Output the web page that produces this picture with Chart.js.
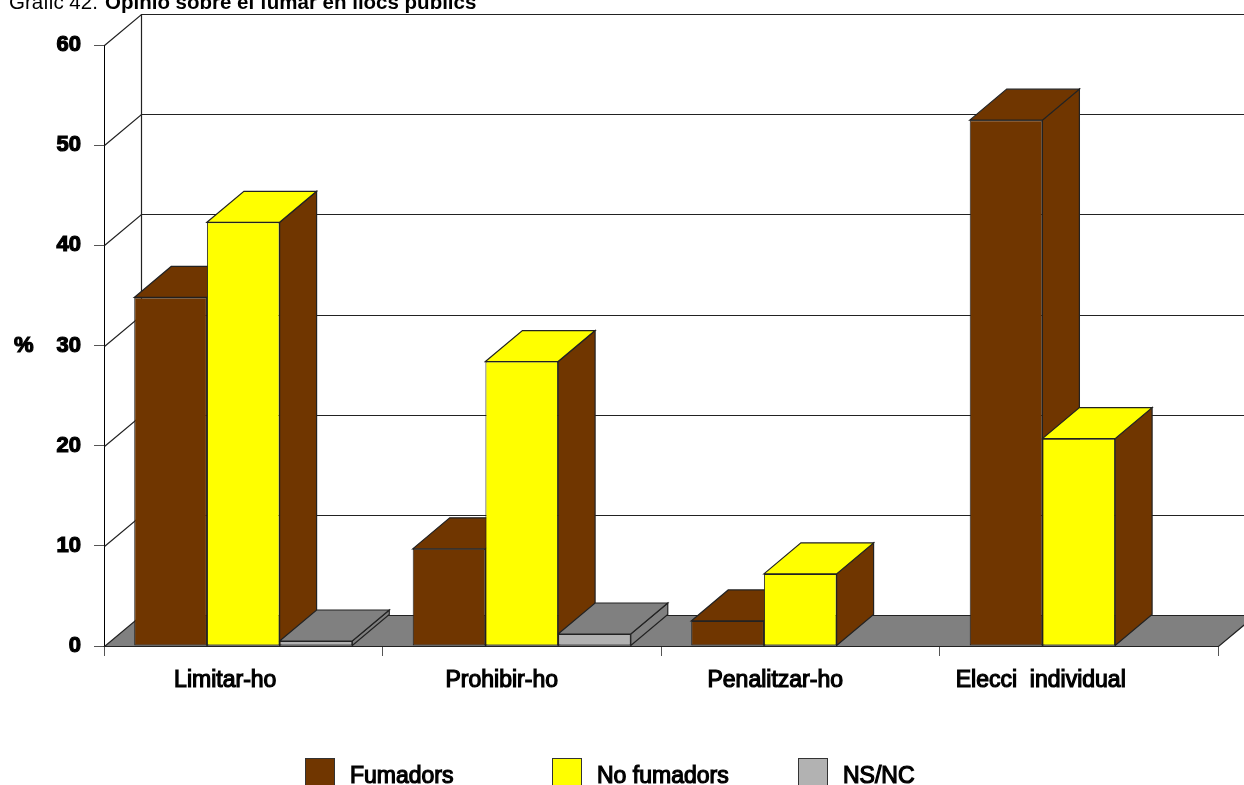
<!DOCTYPE html>
<html>
<head>
<meta charset="utf-8">
<title>Gràfic 42</title>
<script src="https://cdn.jsdelivr.net/npm/chart.js@4"></script>
<style>
    html, body { margin: 0; padding: 0; background: #fff; overflow: hidden; }
    canvas { display: block; }
</style>
</head>
<body>
<canvas id="chart" width="1244" height="785"></canvas>
<script>
// Values
const categories = ['Limitar-ho', 'Prohibir-ho', 'Penalitzar-ho', 'Elecci  individual'];
const fumadors = [34.8, 9.7, 2.5, 52.5];
const noFumadors = [42.3, 28.4, 7.2, 20.7];
const nsNc = [0.5, 1.2, null, null];
const seriesNames = ['Fumadors', 'No fumadors', 'NS/NC'];
const yMax = 60;
const yStep = 10;

// Look of the 3D box
const frontColors = ['#703600', '#ffff00', '#b2b2b2'];
const topColors = ['#703600', '#ffff00', '#808080'];
const sideColors = ['#703600', '#703600', '#808080'];
const floorColor = '#808080';
const lineColor = '#222';
const depthX = 37;
const depthY = 31;
const font = '"Liberation Sans", Arial, sans-serif';
const labelNudge = [-18, -20, -25, -38]; // labels sit left of their groups in the original
const legendX = [305, 552, 798];

function poly(c, pts, fill) {
    c.beginPath();
    c.moveTo(pts[0][0], pts[0][1]);
    pts.slice(1).forEach(p => c.lineTo(p[0], p[1]));
    c.closePath();
    if (fill) {
        c.fillStyle = fill;
        c.fill();
    }
    c.stroke();
}

// Back wall, side wall and floor, then the tops and sides of the bars
const box3d = {
    id: 'box3d',
    beforeDatasetsDraw(chart) {
        const c = chart.ctx;
        const y = chart.scales.y;
        const a = chart.chartArea;
        const x0 = a.left + 0.5;
        const x1 = a.right + 0.5;
        const base = Math.round(y.getPixelForValue(0)) + 0.5;
        c.save();
        c.strokeStyle = lineColor;
        c.lineWidth = 1.2;

        poly(c, [[x0, base], [x0 + depthX, base - depthY], [x1 + depthX, base - depthY], [x1, base]], floorColor);

        for (let v = yStep; v <= yMax; v += yStep) {
            const py = Math.round(y.getPixelForValue(v)) + 0.5;
            c.beginPath();
            c.moveTo(x0, py);
            c.lineTo(x0 + depthX, py - depthY);
            c.lineTo(x1 + depthX, py - depthY);
            c.stroke();
        }
        c.beginPath();
        c.moveTo(x0 + depthX, base - depthY);
        c.lineTo(x0 + depthX, Math.round(y.getPixelForValue(yMax)) + 0.5 - depthY);
        c.stroke();

        categories.forEach((_, i) => {
            chart.data.datasets.forEach((ds, d) => {
                if (ds.data[i] === null) return;
                const bar = chart.getDatasetMeta(d).data[i];
                const l = bar.x - bar.width / 2;
                const r = bar.x + bar.width / 2;
                const t = bar.y;
                const b = bar.base;
                poly(c, [[r, b], [r + depthX, b - depthY], [r + depthX, t - depthY], [r, t]], sideColors[d]);
                poly(c, [[l, t], [l + depthX, t - depthY], [r + depthX, t - depthY], [r, t]], topColors[d]);
            });
        });
        c.restore();
    },
    beforeDraw(chart) {
        // shift each category label by its own amount
        chart.scales.x.getLabelItems().forEach((item, i) => {
            if (!item.nudged) {
                item.options.translation[0] += labelNudge[i];
                item.nudged = true;
            }
        });
    },
    afterDraw(chart) {
        const c = chart.ctx;
        c.save();
        c.fillStyle = '#000';
        c.textBaseline = 'alphabetic';

        // title, cut by the top edge like the original
        c.font = '20.5px ' + font;
        c.fillText('Gràfic 42. ', 9, 9);
        c.font = 'bold 20.5px ' + font;
        c.fillText('Opinió sobre el fumar en llocs públics', 105, 9);

        // axis unit
        c.font = 'bold 22px ' + font;
        c.lineWidth = 1.2;
        c.fillText('%', 14, 352);
        c.strokeText('%', 14, 352);

        // legend: equal pitch, which the built-in one cannot do
        seriesNames.forEach((name, i) => {
            c.fillStyle = frontColors[i];
            c.strokeStyle = '#333';
            c.lineWidth = 1;
            c.fillRect(legendX[i] + 0.5, 758.5, 29, 40);
            c.strokeRect(legendX[i] + 0.5, 758.5, 29, 40);
            c.fillStyle = '#000';
            c.strokeStyle = '#000';
            c.lineWidth = 1.2;
            c.font = '23px ' + font;
            c.fillText(name, legendX[i] + 45, 783);
            c.strokeText(name, legendX[i] + 45, 783);
        });
        c.restore();
    }
};

const ctx = document.getElementById('chart').getContext('2d');
const chart = new Chart(ctx, {
    type: 'bar',
    plugins: [box3d],
    data: {
        labels: categories,
        datasets: [fumadors, noFumadors, nsNc].map((values, i) => ({
            label: seriesNames[i],
            data: values,
            backgroundColor: frontColors[i],
            borderColor: lineColor,
            borderWidth: 1,
            borderSkipped: false,
            categoryPercentage: 0.783,
            barPercentage: 1
        }))
    },
    options: {
        responsive: false,
        animation: false,
        layout: { padding: { top: 45, right: 26, left: 0, bottom: 0 } },
        plugins: {
            legend: { display: false },
            tooltip: { enabled: false }
        },
        scales: {
            x: {
                afterFit(scale) { scale.height = 139; },
                grid: { drawOnChartArea: false, color: '#000', tickLength: 10, tickColor: '#555' },
                border: { color: '#000' },
                ticks: {
                    color: '#000',
                    padding: 11,
                    maxRotation: 0,
                    font: { family: font, size: 23 },
                    textStrokeColor: '#000',
                    textStrokeWidth: 1.2
                }
            },
            y: {
                min: 0,
                max: yMax,
                afterFit(scale) { scale.width = 104; },
                grid: { drawOnChartArea: false, color: '#000', tickLength: 10, tickColor: '#555' },
                border: { color: '#000' },
                ticks: {
                    stepSize: yStep,
                    color: '#000',
                    padding: 13,
                    font: { family: font, size: 22, weight: 'bold' },
                    textStrokeColor: '#000',
                    textStrokeWidth: 1.2
                }
            }
        }
    }
});
</script>
</body>
</html>
